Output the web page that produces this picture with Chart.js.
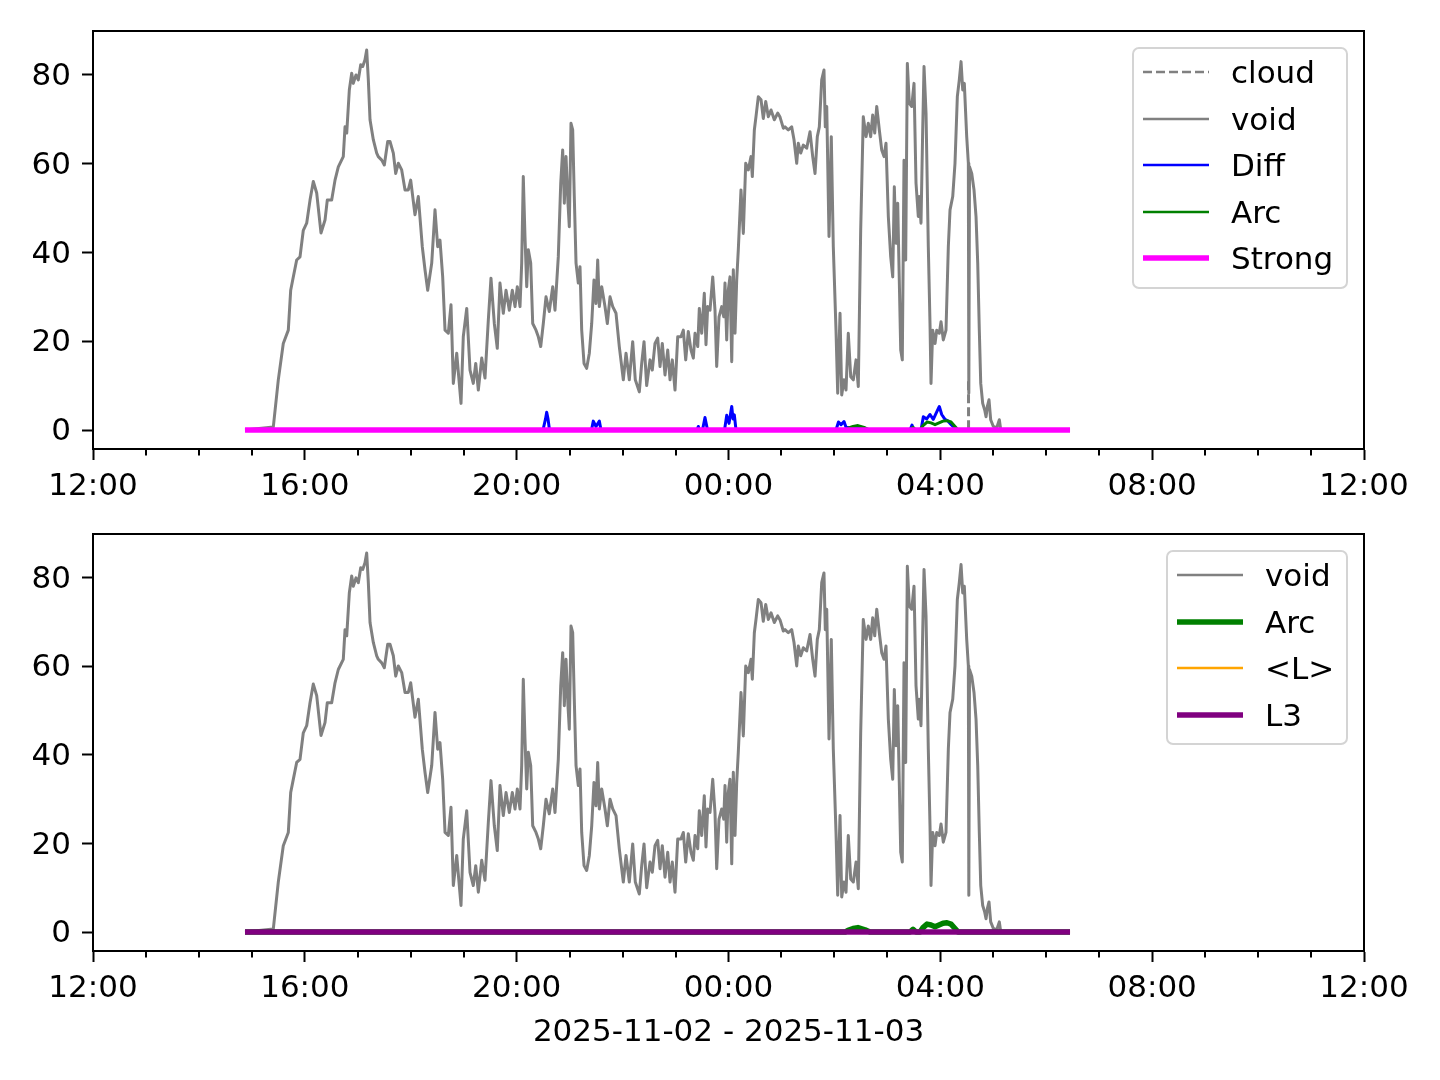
<!DOCTYPE html>
<html><head><meta charset="utf-8">
<script src="https://cdn.jsdelivr.net/npm/chart.js@4.4.0/dist/chart.umd.min.js"></script>
<style>
html,body{margin:0;padding:0;background:#fff;}
#wrap{position:relative;width:1440px;height:1080px;background:#fff;overflow:hidden;font-family:'DejaVu Sans';}
canvas{position:absolute;left:0;}
.lg{position:absolute;border:2px solid #d4d4d4;border-radius:7px;background:rgba(255,255,255,0.8);box-sizing:border-box;}
.lt{position:absolute;font-size:31px;line-height:31px;color:#000;white-space:nowrap;font-family:'DejaVu Sans';}
svg.ls{position:absolute;overflow:visible;}
</style></head>
<body><div id="wrap">
<canvas id="c1" width="1440" height="509" style="top:0"></canvas>
<canvas id="c2" width="1440" height="571" style="top:509px"></canvas>
</div>
<script>
// x values: hours after 12:00 on 2025-11-02
const X_MIN = 0, X_MAX = 24;
const X_TICKS = [0, 4, 8, 12, 16, 20, 24];
const X_MINOR_STEP = 1;
const Y_TICKS = [0, 20, 40, 60, 80];
const Y_MIN = -4.28, Y_MAX = 89.9;
const X_TITLE = '2025-11-02 - 2025-11-03';

const voidT = [2.870,3.405,3.499,3.593,3.688,3.733,3.771,3.846,3.909,3.971,4.035,4.098,4.160,4.224,4.305,4.381,4.424,4.507,4.570,4.632,4.726,4.759,4.791,4.840,4.885,4.915,4.966,5.010,5.055,5.093,5.136,5.168,5.199,5.231,5.293,5.357,5.387,5.452,5.501,5.565,5.608,5.671,5.716,5.765,5.829,5.892,5.954,5.999,6.080,6.143,6.218,6.269,6.320,6.396,6.458,6.509,6.552,6.603,6.647,6.709,6.760,6.804,6.868,6.911,6.949,6.992,7.057,7.119,7.181,7.227,7.276,7.340,7.402,7.465,7.515,7.578,7.634,7.685,7.748,7.799,7.861,7.918,7.969,8.012,8.063,8.095,8.125,8.157,8.190,8.220,8.265,8.303,8.365,8.409,8.454,8.503,8.554,8.616,8.681,8.724,8.786,8.832,8.869,8.900,8.932,8.969,8.994,9.026,9.058,9.088,9.121,9.164,9.196,9.228,9.272,9.322,9.372,9.417,9.460,9.498,9.530,9.561,9.606,9.668,9.712,9.763,9.814,9.876,9.938,10.014,10.065,10.127,10.191,10.240,10.316,10.361,10.405,10.455,10.518,10.561,10.612,10.663,10.707,10.750,10.801,10.852,10.896,10.939,10.990,11.041,11.103,11.147,11.192,11.241,11.292,11.336,11.368,11.419,11.449,11.494,11.543,11.575,11.607,11.651,11.702,11.745,11.777,11.821,11.872,11.910,11.934,11.966,11.996,12.028,12.061,12.091,12.123,12.155,12.185,12.236,12.280,12.325,12.374,12.425,12.450,12.488,12.519,12.563,12.614,12.657,12.703,12.752,12.803,12.865,12.929,12.973,13.035,13.067,13.129,13.193,13.237,13.288,13.318,13.364,13.413,13.477,13.539,13.590,13.634,13.677,13.715,13.760,13.803,13.828,13.855,13.898,13.941,13.979,14.030,14.062,14.106,14.138,14.181,14.219,14.262,14.308,14.357,14.408,14.451,14.496,14.545,14.597,14.640,14.685,14.723,14.761,14.799,14.848,14.893,14.937,14.974,15.018,15.063,15.101,15.131,15.163,15.195,15.225,15.252,15.282,15.314,15.346,15.377,15.414,15.460,15.503,15.541,15.584,15.603,15.635,15.667,15.692,15.730,15.773,15.805,15.824,15.856,15.900,15.932,15.981,16.013,16.056,16.107,16.151,16.183,16.234,16.277,16.321,16.358,16.391,16.423,16.453,16.498,16.529,16.538,16.551,16.593,16.636,16.674,16.706,16.736,16.763,16.800,16.838,16.863,16.888,16.919,16.951,17.001,17.065,17.114,17.141];
const voidV = [0,0.7,11.3,19.5,22.5,31.5,33.8,38.3,39,45,46.6,51.8,56,53.4,44.4,47.3,51.8,51.8,56.3,59.3,61.6,68.3,66.9,76.6,80.4,78.1,80,78.9,82.3,81.9,83.4,85.6,78.9,69.9,65.4,62.4,61.6,60.8,59.7,65,65,62.4,57.8,60.1,58.6,54.1,54.1,56.3,48.5,52.6,41.3,36.1,31.5,37.6,49.6,41.3,42.8,34.5,22.5,21.8,28.2,10.5,17.3,11.3,6,21,27.4,13.5,10.5,15,9,16.2,11.7,24.8,34.2,24,18.4,33.1,26.3,31.5,27,31.5,27.8,32.3,27.8,37.6,57.1,43.6,32.3,40.6,37.6,24,22.5,21,18.8,24,30,26.7,32.3,27,39,55.6,63.1,51.1,61.6,51.1,45.8,69.1,67.6,52.6,37.6,33.1,36.8,22.5,15,13.9,17.3,24,33.8,28.5,38.3,27.8,32.3,27.8,24,30,27.8,26.3,18.8,11.3,17.3,11.3,19.9,11.3,8.6,15,19.9,10,15.8,13.5,19.5,20.7,14.3,19.5,12.4,18,11.3,15.8,9,21,21,22.5,15.8,22.2,18,16.2,21.8,18.8,27.4,21.8,30.8,19.2,27.8,27,34.5,27,14.3,25.5,27.8,25.5,33.1,20.3,31.5,34.5,15.4,36.1,21.8,33.8,40.6,54.1,44.3,60.1,58.6,61.6,57.1,67.6,70.6,75.1,74.4,70.2,74,70.6,72.1,69.9,71.4,70.5,68,68.3,67.6,68.3,65.4,60.1,64.6,62.4,64.2,63.5,67.2,61.6,57.8,66.1,68.3,78.9,81.1,68.3,72.9,43.6,66.1,41.3,22.5,8.3,26.3,7.9,11.3,9,21.8,12,11.3,15.8,9.8,45,70.6,66.1,69.1,66.1,71,66.9,72.9,67.6,63.1,61.6,64.6,48.1,39,34.5,54.8,42.1,51.1,33.8,18,15.8,60.8,38.3,82.6,73.6,72.9,78.1,55.6,48.1,52.6,46.6,67.6,81.9,71.4,41.3,24,10.5,22.5,19.5,22.5,21.8,24.4,20.3,22.5,41.3,49.6,52.6,60.1,75.1,78.9,83,76.6,78.1,66.1,60.1,8.3,59.3,57.8,54.1,48.1,37.6,22.5,10.5,6,4.5,3,5.3,6.8,2.3,0.8,0.5,2.3,0];

const cloudT = [16.532, 16.533];
const cloudV = [11, 0];

const diffT = [2.870,8.497,8.545,8.567,8.592,8.620,9.413,9.447,9.498,9.561,9.593,11.405,11.430,11.453,11.509,11.556,11.604,11.925,11.966,12.010,12.061,12.085,12.110,12.142,14.030,14.077,14.125,14.181,14.219,14.332,14.483,14.559,15.427,15.465,15.503,15.635,15.679,15.743,15.805,15.867,15.932,15.981,16.026,16.088,16.145,16.215,16.309,18.449];
const diffV = [0,0,2.5,4.0,2.5,0,0,2.0,0.8,2.0,0,0,0.8,0,0,2.8,0,0,3.3,1.5,5.3,2.5,3.4,0,0,1.8,1.2,1.9,0.6,0.4,0.4,0,0,1.1,0,0,3.0,2.5,3.5,2.4,4.1,5.3,3.5,2.4,2.0,1.1,0,0];

const arcT = [2.870,14.200,14.257,14.351,14.445,14.578,14.672,15.427,15.484,15.541,15.616,15.673,15.749,15.824,15.900,15.975,16.051,16.126,16.202,16.277,16.334,18.449];
const arcV = [0,0,0.4,0.8,1.0,0.5,0,0,0.6,0,0,1.0,1.8,1.6,1.2,1.6,2.0,2.1,1.8,0.8,0,0];

const strongT = [2.870, 18.449];
const strongV = [0, 0];
const meanLT = [2.870, 18.449];
const meanLV = [0, 0];
const l3T = [2.870, 18.449];
const l3V = [0, 0];

const GRAY = '#808080', BLUE = '#0000ff', GREEN = '#008000', MAGENTA = '#ff00ff', ORANGE = '#ffa500', PURPLE = '#800080';

function pts(t, v) { return t.map((x, i) => ({ x: x, y: v[i] })); }
function fmtHour(v) { const h = (12 + v) % 24; return (h < 10 ? '0' : '') + h + ':00'; }

Chart.defaults.font.family = "'DejaVu Sans', sans-serif";
Chart.defaults.font.size = 31;
Chart.defaults.color = '#000';

const framePlugin = {
  id: 'frame',
  afterDraw(chart) {
    const ctx = chart.ctx, a = chart.chartArea, xs = chart.scales.x;
    ctx.save();
    ctx.strokeStyle = '#000';
    ctx.lineWidth = 2;
    for (let h = X_MIN; h <= X_MAX; h += X_MINOR_STEP) {
      if (X_TICKS.includes(h)) continue;
      const px = Math.round(xs.getPixelForValue(h));
      ctx.beginPath(); ctx.moveTo(px, a.bottom); ctx.lineTo(px, a.bottom + 6.5); ctx.stroke();
    }
    ctx.strokeRect(a.left, a.top, a.right - a.left, a.bottom - a.top);
    ctx.restore();
  }
};

function axisGrid() {
  return { drawOnChartArea: false, drawTicks: true, tickLength: 11, tickWidth: 2, tickColor: '#000' };
}

function makeOptions(xHeight, padTop, withTitle) {
  return {
    responsive: false, animation: false, devicePixelRatio: 1,
    layout: { padding: { left: 0, right: 76, top: padTop, bottom: 0 } },
    plugins: { legend: { display: false }, tooltip: { enabled: false } },
    elements: { point: { radius: 0 }, line: { tension: 0 } },
    scales: {
      x: {
        type: 'linear', min: X_MIN, max: X_MAX, bounds: 'data',
        afterBuildTicks(s) { s.ticks = X_TICKS.map(v => ({ value: v })); },
        afterFit(s) { s.height = xHeight; s.paddingLeft = 0; s.paddingRight = 0; },
        ticks: { callback: v => fmtHour(v), color: '#000', padding: 8, maxRotation: 0, autoSkip: false },
        grid: axisGrid(),
        border: { display: true, color: '#000', width: 2 },
        title: withTitle ? { display: true, text: X_TITLE, color: '#000', font: { size: 31 }, padding: { top: 0, bottom: 28 } } : { display: false }
      },
      y: {
        type: 'linear', min: Y_MIN, max: Y_MAX, bounds: 'data',
        afterBuildTicks(s) { s.ticks = Y_TICKS.map(v => ({ value: v })); },
        afterFit(s) { s.width = 93; s.paddingTop = 0; s.paddingBottom = 0; },
        ticks: { color: '#000', padding: 11, labelOffset: 2 },
        grid: axisGrid(),
        border: { display: true, color: '#000', width: 2 }
      }
    }
  };
}

function ds(label, t, v, color, width, order, extra) {
  return Object.assign({ label: label, data: pts(t, v), borderColor: color, backgroundColor: color,
    borderWidth: width, pointRadius: 0, fill: false, order: order, borderJoinStyle: 'round' }, extra || {});
}

new Chart(document.getElementById('c1'), {
  type: 'line',
  data: { datasets: [
    ds('cloud', cloudT, cloudV, GRAY, 3, 4, { borderDash: [9, 4] }),
    ds('void', voidT, voidV, GRAY, 3, 3),
    ds('Diff', diffT, diffV, BLUE, 3, 2),
    ds('Arc', arcT, arcV, GREEN, 3, 1),
    ds('Strong', strongT, strongV, MAGENTA, 5.5, 0)
  ] },
  options: makeOptions(60, 31, false),
  plugins: [framePlugin]
});

new Chart(document.getElementById('c2'), {
  type: 'line',
  data: { datasets: [
    ds('void', voidT, voidV, GRAY, 3, 3),
    ds('Arc', arcT, arcV, GREEN, 5.5, 2),
    ds('<L>', meanLT, meanLV, ORANGE, 2.5, 1),
    ds('L3', l3T, l3V, PURPLE, 5.5, 0)
  ] },
  options: makeOptions(129, 25, true),
  plugins: [framePlugin]
});

// legends (matplotlib style, upper right)
const LEGEND_TOP = [
  { label: 'cloud', color: GRAY, width: 2.5, dash: '9,4' },
  { label: 'void', color: GRAY, width: 2.5 },
  { label: 'Diff', color: BLUE, width: 2.5 },
  { label: 'Arc', color: GREEN, width: 2.5 },
  { label: 'Strong', color: MAGENTA, width: 5.5 }
];
const LEGEND_BOTTOM = [
  { label: 'void', color: GRAY, width: 2.5 },
  { label: 'Arc', color: GREEN, width: 5.5 },
  { label: '<L>', color: ORANGE, width: 2.5 },
  { label: 'L3', color: PURPLE, width: 5.5 }
];

function buildLegend(items, box, firstRow, step) {
  const wrap = document.getElementById('wrap');
  const b = document.createElement('div');
  b.className = 'lg';
  b.style.left = box[0] + 'px'; b.style.top = box[1] + 'px';
  b.style.width = box[2] + 'px'; b.style.height = box[3] + 'px';
  wrap.appendChild(b);
  const lineX = box[0] + 11, lineW = 66, textX = box[0] + 99;
  items.forEach((it, i) => {
    const cy = firstRow + i * step;
    const svg = document.createElementNS('http://www.w3.org/2000/svg', 'svg');
    svg.setAttribute('class', 'ls');
    svg.setAttribute('width', lineW); svg.setAttribute('height', 10);
    svg.style.left = lineX + 'px'; svg.style.top = (cy - 5) + 'px';
    const ln = document.createElementNS('http://www.w3.org/2000/svg', 'line');
    ln.setAttribute('x1', 0); ln.setAttribute('x2', lineW);
    ln.setAttribute('y1', 5); ln.setAttribute('y2', 5);
    ln.setAttribute('stroke', it.color); ln.setAttribute('stroke-width', it.width);
    if (it.dash) ln.setAttribute('stroke-dasharray', it.dash);
    svg.appendChild(ln);
    wrap.appendChild(svg);
    const t = document.createElement('div');
    t.className = 'lt';
    t.textContent = it.label;
    t.style.left = textX + 'px'; t.style.top = (cy - 15) + 'px';
    wrap.appendChild(t);
  });
}
buildLegend(LEGEND_TOP, [1132, 47, 216, 242], 72, 46.6);
buildLegend(LEGEND_BOTTOM, [1166, 550, 182, 195], 575, 46.5);
</script>
</body></html>
